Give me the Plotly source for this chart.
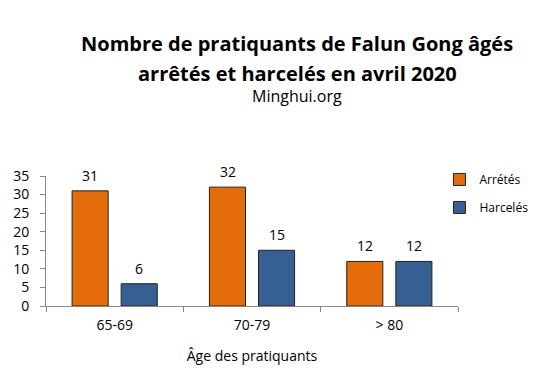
import plotly.graph_objects as go

categories = ["65-69", "70-79", "> 80"]
arretes = [31, 32, 12]
harceles = [6, 15, 12]
y_ticks = [0, 5, 10, 15, 20, 25, 30, 35]

font_family = "Open Sans, Liberation Sans, sans-serif"

fig = go.Figure()
fig.add_trace(go.Bar(
    name="Arrétés", x=categories, y=arretes, legendgroup="a",
    marker=dict(color="#E46C0A", line=dict(color="#222222", width=1)),
))
fig.add_trace(go.Bar(
    name="Harcelés", x=categories, y=harceles, legendgroup="h",
    marker=dict(color="#376092", line=dict(color="#222222", width=1)),
))

for vals, shift in ((arretes, -24.5), (harceles, 24.5)):
    for c, v in zip(categories, vals):
        fig.add_annotation(x=c, y=v, text=str(v), showarrow=False,
                           xshift=shift, yshift=4, yanchor="bottom",
                           font=dict(size=14, color="#000000"))

fig.update_layout(
    width=544, height=385,
    margin=dict(l=46, r=86, t=176, b=79, autoexpand=False),
    paper_bgcolor="white", plot_bgcolor="white",
    font=dict(family=font_family, size=14, color="#000000"),
    barmode="group", bargap=0.285, bargroupgap=0.265,
    showlegend=True,
    legend=dict(x=0.955, y=1.085, xanchor="left", yanchor="top",
                font=dict(size=12), itemwidth=30, tracegroupgap=9,
                bgcolor="rgba(0,0,0,0)"),
)
title_x = (297 - 46) / 412
for txt, cy, size in (("<b>Nombre de pratiquants de Falun Gong âgés</b>", 43, 20),
                      ("<b>arrêtés et harcelés en avril 2020</b>", 73, 20),
                      ("Minghui.org", 96, 16)):
    fig.add_annotation(
        text=txt, xref="paper", yref="paper", x=title_x, y=1 + (176 - cy) / 130,
        xanchor="center", yanchor="middle", showarrow=False,
        font=dict(size=size, family=font_family),
    )
fig.update_xaxes(
    showline=True, linecolor="#888888", linewidth=1,
    ticks="outside", tickson="boundaries", ticklen=5, tickcolor="#888888",
    showgrid=False, ticklabelstandoff=6,
    title=dict(text="Âge des pratiquants", font=dict(size=14), standoff=18),
    tickfont=dict(size=14),
)
fig.update_yaxes(
    range=[0, 35], tickvals=y_ticks,
    showline=True, linecolor="#888888", linewidth=1,
    ticks="outside", ticklen=5, tickcolor="#888888", ticklabelstandoff=8,
    showgrid=False, zeroline=False, tickfont=dict(size=14),
)
fig.write_html("out.html", config={"displayModeBar": False},
               post_script="document.body.style.margin='0';")
